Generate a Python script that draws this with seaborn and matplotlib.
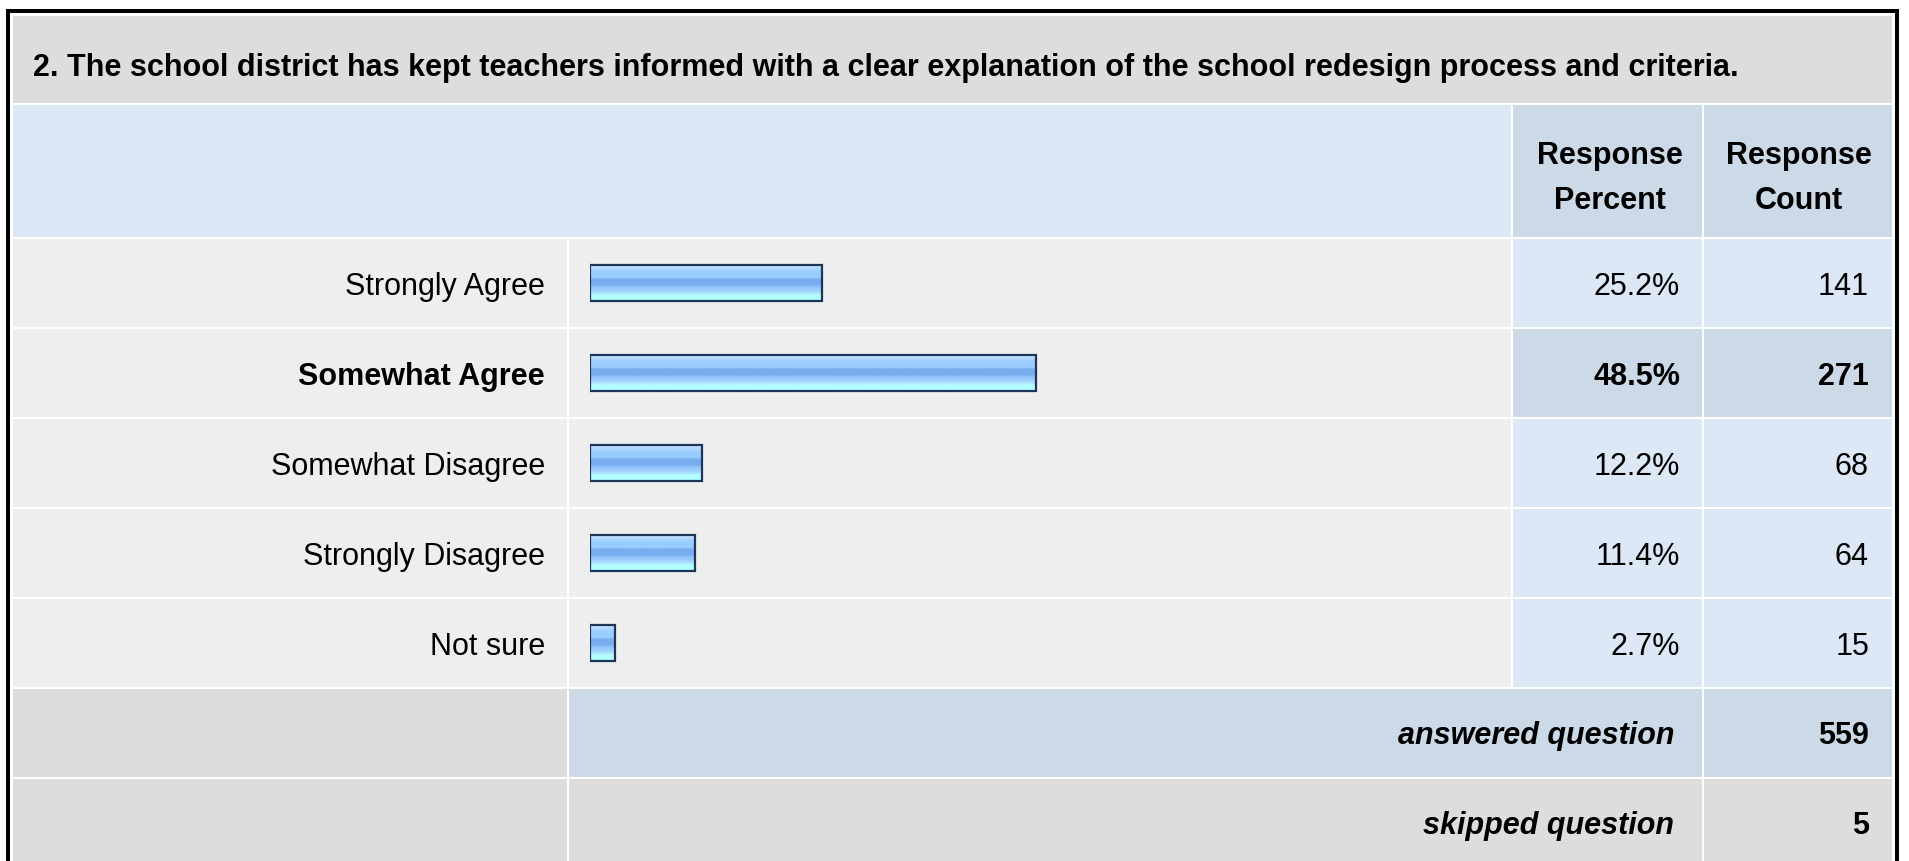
import numpy as np
import pandas as pd
import matplotlib
matplotlib.use("Agg")
import matplotlib.pyplot as plt
from matplotlib.patches import Rectangle
from matplotlib.colors import LinearSegmentedColormap
import seaborn as sns

# survey data
question = ("2. The school district has kept teachers informed with a clear "
            "explanation of the school redesign process and criteria.")
choices = ["Strongly Agree", "Somewhat Agree", "Somewhat Disagree",
           "Strongly Disagree", "Not sure"]
percents = [25.2, 48.5, 12.2, 11.4, 2.7]
counts = [141, 271, 68, 64, 15]
highlight = "Somewhat Agree"
answered = 559
skipped = 5
col_headers = ["Response\nPercent", "Response\nCount"]

df = pd.DataFrame({"choice": choices, "percent": percents, "count": counts})

sns.set_theme(style="white")
plt.rcParams['font.family'] = ['Liberation Sans', 'DejaVu Sans']
plt.rcParams['text.color'] = 'black'

W, H = 1909, 861
fig = plt.figure(figsize=(W / 100, H / 100), dpi=100)
ax = fig.add_axes([0, 0, 1, 1])
ax.set_xlim(0, W)
ax.set_ylim(H, 0)
ax.axis('off')

GRAY = "#dddddd"
LIGHT = "#eeeeee"
BLUE = "#dce8f6"
BLUE2 = "#ccd9e7"

# table grid (pixel layout)
xs = [12, 568, 1512, 1703, 1893]
ys = [15, 104, 238, 328, 418, 508, 598, 688, 778, 880]


def cell(x0, x1, y0, y1, color):
    ax.add_patch(Rectangle((x0 + 1, y0 + 1), x1 - x0 - 2, y1 - y0 - 2,
                           facecolor=color, edgecolor='none', zorder=1))


# outer frame
ax.add_patch(Rectangle((6, 9), 1893, 900, facecolor='black', edgecolor='none', zorder=0))
ax.add_patch(Rectangle((10, 13), 1885, 900, facecolor='white', edgecolor='none', zorder=0))

# title row + header row
cell(xs[0], xs[4], ys[0], ys[1], GRAY)
cell(xs[0], xs[2], ys[1], ys[2], BLUE)
cell(xs[2], xs[3], ys[1], ys[2], BLUE2)
cell(xs[3], xs[4], ys[1], ys[2], BLUE2)

ax.text(33, 76, question, fontsize=22, fontweight='bold', ha='left', va='baseline', zorder=5)
hx = [(xs[2] + xs[3]) / 2 + 2, (xs[3] + xs[4]) / 2 + 1]
for x, h in zip(hx, col_headers):
    l1, l2 = h.split("\n")
    ax.text(x, 164, l1, fontsize=22, fontweight='bold', ha='center', va='baseline', zorder=5)
    ax.text(x, 209, l2, fontsize=22, fontweight='bold', ha='center', va='baseline', zorder=5)

# answer rows
for i, row in df.iterrows():
    y0, y1 = ys[2 + i], ys[3 + i]
    hl = row["choice"] == highlight
    cell(xs[0], xs[1], y0, y1, LIGHT)
    cell(xs[1], xs[2], y0, y1, LIGHT)
    cell(xs[2], xs[3], y0, y1, BLUE2 if hl else BLUE)
    cell(xs[3], xs[4], y0, y1, BLUE2 if hl else BLUE)
    base = (y0 + y1) / 2 + 12
    fw = 'bold' if hl else 'normal'
    ax.text(545, base, row["choice"], fontsize=22, fontweight=fw, ha='right', va='baseline', zorder=5)
    ax.text(1680, base, f"{row['percent']:.1f}%", fontsize=22, fontweight=fw, ha='right', va='baseline', zorder=5)
    ax.text(1869, base, str(row["count"]), fontsize=22, fontweight=fw, ha='right', va='baseline', zorder=5)

# summary rows
summary = [("answered question", answered, BLUE2), ("skipped question", skipped, GRAY)]
for k, (lab, val, c) in enumerate(summary):
    y0, y1 = ys[7 + k], ys[8 + k]
    cell(xs[0], xs[1], y0, y1, GRAY)
    cell(xs[1], xs[3], y0, y1, c)
    cell(xs[3], xs[4], y0, y1, c)
    base = (y0 + y0 + 90) / 2 + 11
    ax.text(1674, base, lab, fontsize=22, fontweight='bold', style='italic', ha='right', va='baseline', zorder=5)
    ax.text(1869, base, str(val), fontsize=22, fontweight='bold', ha='right', va='baseline', zorder=5)

# bars
bax = fig.add_axes([590 / W, 1 - ys[7] / H, 920 / W, (ys[7] - ys[2]) / H])
bax.patch.set_alpha(0)
sns.barplot(data=df, x="percent", y="choice", order=choices, orient='h', width=0.4,
            facecolor='none', edgecolor='#1c3559', linewidth=1.6, errorbar=None, ax=bax)
bax.set_xlim(0, 100)
bax.set_ylim(4.5, -0.5)
bax.axis('off')

grad = LinearSegmentedColormap.from_list("bar", [
    (0.0, "#cfe8ff"), (0.12, "#a9d5ff"), (0.20, "#99ccff"), (0.36, "#99ccff"),
    (0.38, "#78aeef"), (0.55, "#78aeef"), (0.60, "#8fc2fa"), (0.74, "#a6d6ff"),
    (0.84, "#b3ffff"), (1.0, "#b3ffff")])
g = np.linspace(0, 1, 256).reshape(-1, 1)
for p in bax.patches:
    x0, y0 = p.get_x(), p.get_y()
    w, h = p.get_width(), p.get_height()
    im = bax.imshow(g, cmap=grad, aspect='auto', extent=(x0, x0 + w, y0 + h, y0),
                    origin='upper', zorder=1, interpolation='bilinear')
    im.set_clip_path(p)
    p.set_zorder(3)
bax.set_xlim(0, 100)
bax.set_ylim(4.5, -0.5)

fig.savefig("out.png", dpi=100)
